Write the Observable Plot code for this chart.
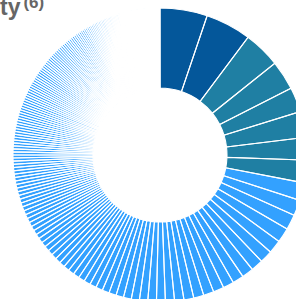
<!DOCTYPE html>
<html>
<head>
<meta charset="utf-8">
<script src="https://cdn.jsdelivr.net/npm/d3@7"></script>
<script src="https://cdn.jsdelivr.net/npm/@observablehq/plot@0.6"></script>
<style>
  html, body { margin: 0; padding: 0; background: #fff; }
  #wrap { position: relative; width: 296px; height: 299px; overflow: hidden; }
  #title { position: absolute; left: 0; top: -7px; font: bold 23px "Liberation Sans", Arial, sans-serif; color: #666; white-space: nowrap; z-index: 2; line-height: 28px; }
  #title .sup { font-size: 17px; position: relative; top: -7px; margin-left: 3px; }
  #chart { position: absolute; left: 0; top: 0; }
</style>
</head>
<body>
<div id="wrap">
  <div id="title">ty<span class="sup">(6)</span></div>
  <div id="chart"></div>
</div>
<script>
// Slice shares (proportional to angle), in drawing order (clockwise from 12 o'clock)
const topShares = [18.7, 18.1];
const midShares = [14.6, 11.6, 9.8, 10.3, 8.9, 9.0];
const restShares = [
  7.0, 6.2, 6.0, 5.8, 5.3, 5.0, 4.8, 4.6, 4.4, 4.3, 4.2, 4.1, 4.0, 3.9, 3.7, 3.6, 3.5,
  3.4, 3.3, 3.2, 3.1, 3.0, 2.9, 2.8, 2.7, 2.65, 2.6, 2.5, 2.45, 2.4, 2.3, 2.25, 2.2,
  2.15, 2.1, 2.05, 2.0, 1.95, 1.9, 1.85, 1.8, 1.75, 1.7, 1.68, 1.65, 1.62, 1.6, 1.56, 1.52,
  1.5, 1.46, 1.43, 1.4, 1.37, 1.34, 1.31, 1.28, 1.26, 1.24, 1.22, 1.2,
  1.19, 1.18, 1.17, 1.16, 1.15, 1.14, 1.13, 1.12, 1.11, 1.10,
  1.10, 1.09, 1.08, 1.07, 1.06, 1.05, 1.05, 1.04, 1.03, 1.02,
  1.02, 1.01, 1.00, 1.00, 0.99, 0.98, 0.98, 0.97, 0.96, 0.96,
  0.95, 0.95, 0.94, 0.93, 0.93, 0.92, 0.92, 0.91, 0.90, 0.90,
  0.89, 0.89, 0.88, 0.88, 0.87, 0.87, 0.86, 0.86, 0.85, 0.85, 0.84, 0.84, 0.83, 0.83,
  0.82, 0.80, 0.79, 0.77, 0.76, 0.74, 0.73, 0.71, 0.70, 0.68, 0.67, 0.65, 0.64, 0.62,
  0.61, 0.60, 0.59, 0.58, 0.57, 0.56, 0.55, 0.54,
  0.53, 0.52, 0.51, 0.50, 0.50, 0.49, 0.48, 0.48, 0.47, 0.46,
  0.46, 0.45, 0.45, 0.44, 0.44, 0.43, 0.43, 0.42, 0.42, 0.41,
  0.41, 0.40, 0.40, 0.39, 0.39, 0.38, 0.38, 0.37, 0.37, 0.36,
  0.36, 0.35, 0.35, 0.34, 0.34, 0.33, 0.33, 0.32, 0.32, 0.31,
  0.31, 0.30, 0.30, 0.29, 0.29, 0.28, 0.28, 0.27, 0.27, 0.26,
  0.26, 0.25, 0.25, 0.24, 0.24, 0.23, 0.23, 0.22, 0.22, 0.21, 0.21, 0.20
];
const groupNames = ["Top", "Mid", "Rest"];
const groupColors = ["#04579a", "#1f7fa3", "#33a1ff"];

// Build table
const table = [
  ...topShares.map(v => ({value: v, group: "Top"})),
  ...midShares.map(v => ({value: v, group: "Mid"})),
  ...restShares.map(v => ({value: v, group: "Rest"}))
].map((d, i) => ({...d, name: `Item ${i + 1}`}));

const arcs = d3.pie().sort(null).value(d => d.value)(table);

const W = 296, H = 299;
const R = 147, CX = 160, CY = 155, INNER = 67 / 147;

const chart = Plot.plot({
  width: W, height: H,
  margin: 0,
  x: {domain: [-CX / R, (W - CX) / R], axis: null},
  y: {domain: [-(H - CY) / R, CY / R], axis: null},
  color: {type: "ordinal", domain: groupNames, range: groupColors},
  marks: [
    Plot.dot(arcs, {
      x: () => 0, y: () => 0, fill: d => d.data.group,
      render(index, scales, values) {
        const cx = scales.x(0), cy = scales.y(0);
        const ro = Math.abs(scales.x(1) - scales.x(0));
        const arc = d3.arc().innerRadius(ro * INNER).outerRadius(ro);
        const g = d3.create("svg:g").attr("transform", `translate(${cx},${cy})`);
        // fills first
        g.append("g").selectAll("path").data(index).join("path")
          .attr("d", i => arc(arcs[i]))
          .attr("fill", i => values.fill[i]);
        // white separators on top
        g.append("g").selectAll("path").data(index).join("path")
          .attr("d", i => arc(arcs[i]))
          .attr("fill", "none")
          .attr("stroke", "#fff")
          .attr("stroke-width", 1.1);
        return g.node();
      }
    })
  ]
});
document.getElementById("chart").append(chart);
</script>
</body>
</html>
